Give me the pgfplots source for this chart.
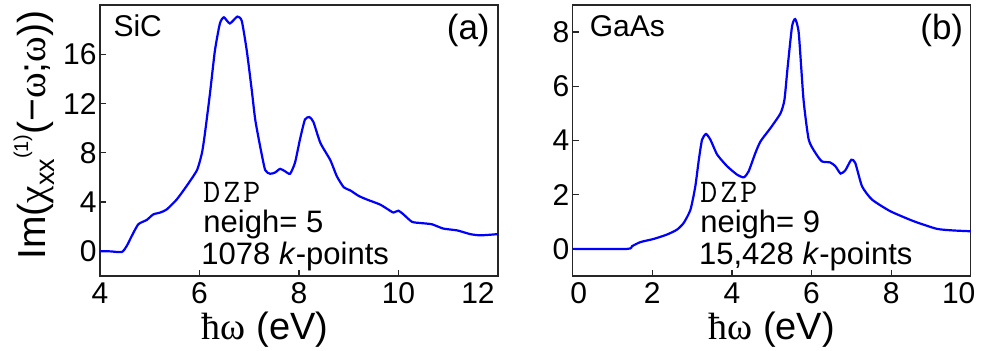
\documentclass[border=0pt]{standalone}
\usepackage{fontspec}
\setmainfont{Liberation Sans}
\newfontfamily\grk{Liberation Serif}
\usepackage{pgfplots}
\pgfplotsset{compat=1.18}

\pgfplotsset{
  panel/.style={
    scale only axis, width=199pt, height=135.5pt, anchor=south west,
    axis line style={black!85, line width=0.65pt},
    tick align=inside, xtick pos=bottom, ytick pos=left,
    major tick length=3pt, tick style={black!85, line width=0.6pt},
    tick label style={font=\fontsize{15}{16}\selectfont},
    /pgf/number format/assume math mode=true,
    xticklabel style={inner sep=0pt, yshift=-3pt},
    yticklabel style={inner sep=0pt, xshift=-1.5pt},
    xlabel style={font=\fontsize{19}{21}\selectfont, anchor=base, inner sep=0pt, text height=11pt},
    no markers,
    every axis plot/.append style={blue, line width=1.1pt, smooth, tension=0.35},
  },
}
\tikzset{txt/.style={anchor=base west, inner sep=0pt, font=\fontsize{15.5}{17}\selectfont}}

\newcommand{\dzp}{{\ttfamily\fontsize{16.5}{18}\selectfont D\kern1.5pt Z\kern1.5pt P}}

\begin{document}
\begin{tikzpicture}
\useasboundingbox (0,0) rectangle (498.5pt,175.5pt);

% (a) SiC
\begin{axis}[panel, at={(50pt,37.5pt)},
    xmin=4, xmax=12, ymin=-2, ymax=20,
    xtick={4,6,8,10,12}, xticklabels={4,6,8,10,{\makebox[0pt]{\kern-20pt 12}}},
    ytick={0,4,8,12,16},
    xlabel={{\grk ħω} (eV)},
    xlabel style={at={(axis description cs:0.415,-0.234)}},
    ylabel={Im({\grk χ}\raisebox{-4.5pt}{\fontsize{13.5}{14}\selectfont xx}\raisebox{8.5pt}{\fontsize{10}{10}\selectfont (1)}(−{\grk ω};{\grk ω}))},
    ylabel style={at={(axis description cs:-0.138,0.52)}, anchor=base, inner sep=0pt,
      font=\fontsize{19.5}{21}\selectfont},
]
\addplot coordinates {
 (4.00,0.00) (4.20,0.00) (4.44,-0.05) (4.54,0.46) (4.64,1.26) (4.77,2.20)
 (4.94,2.55) (5.07,3.00) (5.21,3.15) (5.34,3.40) (5.54,4.20) (5.74,5.30)
 (5.95,6.60) (6.05,8.00) (6.11,9.60) (6.21,12.8) (6.31,16.3) (6.41,18.5)
 (6.49,19.0) (6.61,18.5) (6.76,19.06) (6.85,18.7) (6.95,16.3) (7.05,13.1)
 (7.12,10.7) (7.22,8.50) (7.32,6.60) (7.42,6.30) (7.52,6.40) (7.62,6.70)
 (7.72,6.50) (7.82,6.30) (7.92,7.20) (8.02,9.10) (8.12,10.7) (8.21,10.9)
 (8.29,10.5) (8.43,8.80) (8.63,7.40) (8.76,6.10) (8.90,5.20) (9.03,4.95)
 (9.20,4.50) (9.37,4.20) (9.63,3.80) (9.83,3.30) (9.90,3.15) (10.0,3.30)
 (10.1,3.00) (10.27,2.40) (10.44,2.30) (10.67,2.20) (10.90,1.85) (11.18,1.70)
 (11.44,1.40) (11.65,1.30) (12.0,1.40)
};
\node[txt, font=\fontsize{15}{17}\selectfont] at (rel axis cs:0.033,0.882) {SiC};
\node[txt, anchor=base east, font=\fontsize{17.5}{19}\selectfont] at (rel axis cs:0.98,0.871) {(a)};
\node[txt] at (rel axis cs:0.259,0.273) {\dzp};
\node[txt] at (rel axis cs:0.259,0.159) {neigh= 5};
\node[txt] at (rel axis cs:0.254,0.041) {1078 \textit{k}-points};
\end{axis}

% (b) GaAs
\begin{axis}[panel, at={(286.35pt,37.5pt)},
    xmin=0, xmax=10, ymin=-1, ymax=9,
    xtick={0,2,4,6,8,10}, xticklabels={{\makebox[0pt]{\kern6pt 0}},2,4,6,8,{\makebox[0pt]{\kern-12pt 10}}},
    ytick={0,2,4,6,8},
    xlabel={{\grk ħω} (eV)},
    xlabel style={at={(axis description cs:0.5,-0.234)}},
]
\addplot coordinates {
 (0.00,0.00) (1.37,0.00) (1.49,0.10) (1.70,0.25) (2.04,0.37) (2.37,0.53)
 (2.62,0.71) (2.79,0.96) (2.96,1.45) (3.08,2.30) (3.17,3.30) (3.25,4.03)
 (3.35,4.24) (3.46,4.03) (3.63,3.48) (3.88,3.05) (4.13,2.74) (4.30,2.64)
 (4.42,2.86) (4.59,3.54) (4.72,3.97) (4.97,4.46) (5.22,5.00) (5.32,5.50)
 (5.40,6.70) (5.51,8.20) (5.59,8.48) (5.68,7.96) (5.80,5.50) (5.93,4.03)
 (6.10,3.54) (6.26,3.23) (6.47,3.19) (6.60,3.05) (6.73,2.78) (6.85,2.90)
 (7.00,3.29) (7.10,3.17) (7.27,2.31) (7.52,1.82) (7.98,1.39) (8.57,1.02)
 (9.15,0.74) (9.57,0.68) (10.0,0.65)
};
\node[txt, font=\fontsize{15}{17}\selectfont] at (rel axis cs:0.042,0.882) {GaAs};
\node[txt, anchor=base east, font=\fontsize{17.5}{19}\selectfont] at (rel axis cs:0.982,0.871) {(b)};
\node[txt] at (rel axis cs:0.3198,0.273) {\dzp};
\node[txt] at (rel axis cs:0.3198,0.159) {neigh= 9};
\node[txt] at (rel axis cs:0.3166,0.041) {15,428 \textit{k}-points};
\end{axis}
\end{tikzpicture}
\end{document}
